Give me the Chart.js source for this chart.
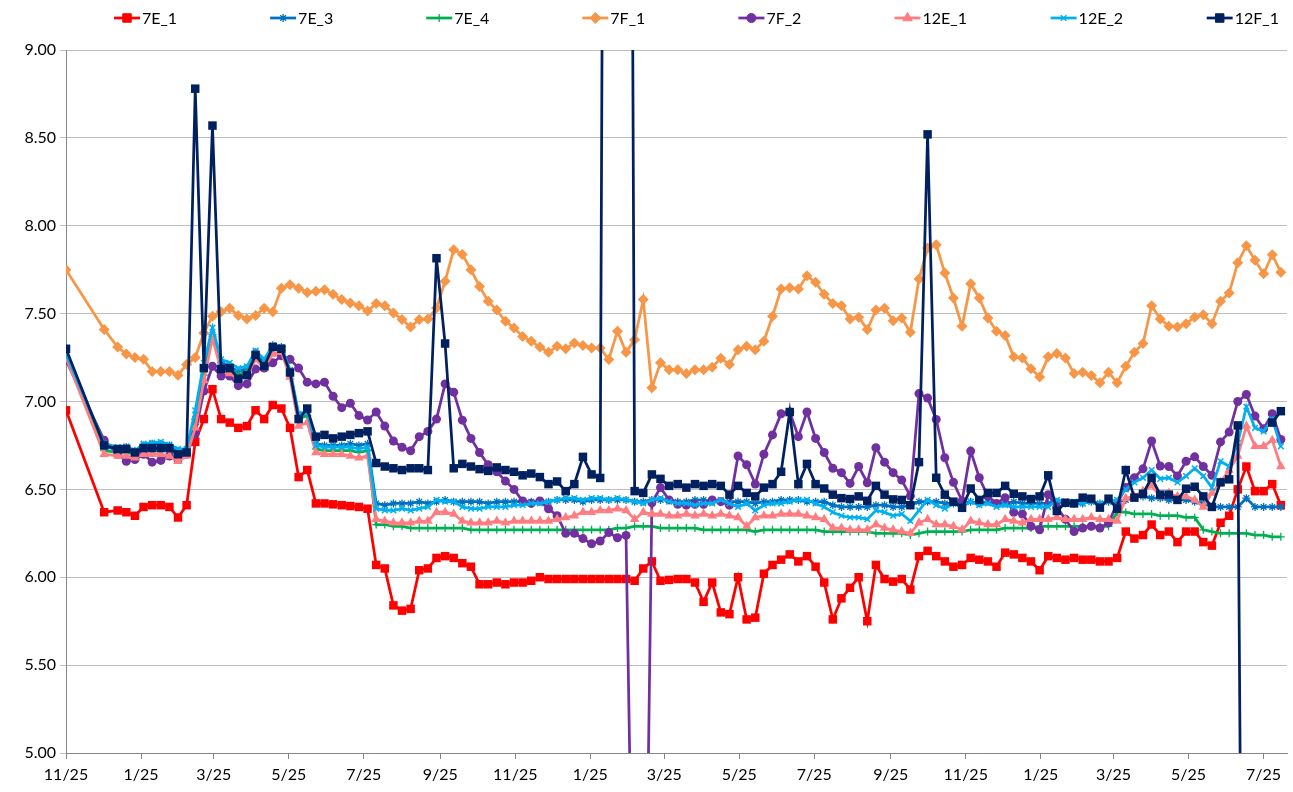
<!DOCTYPE html>
<html>
<head>
<meta charset="utf-8">
<script src="https://cdn.jsdelivr.net/npm/chart.js@4.4.1/dist/chart.umd.min.js"></script>
<style>
html,body{margin:0;padding:0;background:#fff;}
#wrap{width:1293px;height:792px;}
</style>
</head>
<body>
<div id="wrap"><canvas id="c" width="1293" height="792"></canvas></div>
<script>
// x positions: days since 11/25 of the first year (one reading per week)
const days = [0,31,
42,49,56,63,70,77,84,91,98,105,112,119,126,133,140,147,154,161,168,175,182,189,196,203,210,217,224,231,238,245,252,259,266,273,280,287,294,301,308,315,322,329,336,343,350,357,364,371,378,385,392,399,406,413,420,427,434,441,448,455,462,469,476,483,490,497,504,511,518,525,532,539,546,553,560,567,574,581,588,595,602,609,616,623,630,637,644,651,658,665,672,679,686,693,700,707,714,721,728,735,742,749,756,763,770,777,784,791,798,805,812,819,826,833,840,847,854,861,868,875,882,889,896,903,910,917,924,931,938,945,952,959,966,973,980,987];

// tick positions (days) and their labels
const tickDays = [0,61,120,181,242,304,365,426,486,547,608,670,731,792,851,912,973];
const tickLabels = ['11/25','1/25','3/25','5/25','7/25','9/25','11/25','1/25','3/25','5/25','7/25','9/25','11/25','1/25','3/25','5/25','7/25'];
const yTicks = [5.0,5.5,6.0,6.5,7.0,7.5,8.0,8.5,9.0];

const s7E_1 = [6.95,6.37,
6.38,6.37,6.35,6.40,6.41,6.41,6.40,6.34,6.41,
6.77,6.90,7.07,6.90,6.88,6.85,6.86,6.95,6.90,6.98,6.96,6.85,6.57,6.61,
6.42,6.42,6.415,6.41,6.405,6.40,6.39,6.07,6.05,5.84,5.81,5.82,6.04,6.05,
6.11,6.12,6.11,6.08,6.06,5.96,5.96,5.97,5.96,5.97,5.97,5.98,6.00,5.99,
5.99,5.99,5.99,5.99,5.99,5.99,5.99,5.99,5.99,5.98,6.05,6.09,5.98,
5.985,5.99,5.99,5.97,5.86,5.97,5.80,5.79,6.00,5.76,5.77,6.02,6.07,6.10,
6.13,6.09,6.12,6.06,5.97,5.76,5.88,5.94,6.00,5.75,6.07,5.99,5.975,5.99,
5.93,6.12,6.15,6.12,6.09,6.06,6.07,6.11,6.10,6.09,6.06,6.14,6.13,6.11,
6.09,6.04,6.12,6.11,6.10,6.11,6.10,6.10,6.09,6.09,6.11,6.26,6.22,6.24,
6.30,6.24,6.26,6.20,6.26,6.26,6.20,6.18,6.31,6.35,6.50,6.63,6.49,6.49,6.53,6.41];

const s7E_3 = [7.28,6.74,
6.73,6.74,6.72,6.75,6.76,6.76,6.75,6.72,6.72,
6.90,7.18,7.38,7.22,7.20,7.17,7.19,7.28,7.22,7.32,7.31,7.17,6.92,6.95,
6.76,6.75,6.75,6.75,6.76,6.75,6.76,6.42,6.41,6.42,6.42,6.42,6.43,6.42,
6.43,6.44,6.43,6.43,6.43,6.43,6.42,6.43,6.43,6.43,6.43,6.43,6.43,6.43,
6.44,6.44,6.44,6.43,6.44,6.44,6.44,6.44,6.44,6.43,6.43,6.44,6.44,
6.44,6.43,6.43,6.44,6.44,6.43,6.43,6.43,6.43,6.43,6.42,6.43,6.43,6.44,
6.44,6.44,6.43,6.43,6.43,6.41,6.40,6.40,6.40,6.40,6.41,6.41,6.40,6.40,
6.41,6.43,6.43,6.43,6.42,6.42,6.42,6.43,6.42,6.43,6.42,6.42,6.43,6.42,
6.42,6.42,6.42,6.43,6.42,6.42,6.42,6.43,6.42,6.43,6.43,6.44,6.46,6.46,
6.45,6.45,6.44,6.44,6.44,6.43,6.42,6.40,6.40,6.40,6.40,6.45,6.40,6.40,6.40,6.40];

const s7E_4 = [7.26,6.72,
6.71,6.71,6.70,6.72,6.73,6.73,6.72,6.70,6.71,
6.87,7.15,7.37,7.20,7.18,7.15,7.17,7.26,7.21,7.30,7.29,7.16,6.90,6.92,
6.73,6.72,6.72,6.72,6.72,6.71,6.72,6.30,6.30,6.29,6.29,6.28,6.28,6.28,
6.28,6.28,6.28,6.28,6.27,6.27,6.27,6.27,6.27,6.27,6.27,6.27,6.27,6.27,
6.27,6.27,6.27,6.27,6.27,6.27,6.27,6.28,6.28,6.29,6.29,6.29,6.28,
6.28,6.28,6.28,6.28,6.27,6.27,6.27,6.27,6.27,6.27,6.26,6.27,6.27,6.27,
6.27,6.27,6.27,6.27,6.26,6.26,6.26,6.26,6.26,6.26,6.25,6.25,6.25,6.25,
6.24,6.25,6.26,6.26,6.26,6.26,6.26,6.27,6.27,6.27,6.27,6.28,6.28,6.28,
6.28,6.29,6.29,6.29,6.29,6.29,6.29,6.29,6.29,6.29,6.37,6.37,6.36,6.36,
6.36,6.35,6.35,6.35,6.34,6.34,6.27,6.26,6.25,6.25,6.25,6.25,6.24,6.24,6.23,6.23];

const s7F_1 = [7.75,7.41,
7.31,7.27,7.25,7.24,7.17,7.17,7.17,7.15,7.21,
7.25,7.39,7.485,7.51,7.53,7.49,7.47,7.49,7.53,7.51,7.645,7.665,7.645,7.62,
7.627,7.636,7.61,7.58,7.56,7.545,7.515,7.557,7.545,7.504,7.466,7.424,7.466,7.47,
7.532,7.684,7.864,7.836,7.75,7.655,7.57,7.52,7.456,7.418,7.37,7.343,7.31,7.28,
7.314,7.30,7.333,7.318,7.305,7.305,7.239,7.40,7.28,7.352,7.58,7.078,7.22,
7.18,7.18,7.16,7.18,7.18,7.195,7.246,7.21,7.295,7.314,7.295,7.343,7.485,7.64,
7.647,7.64,7.716,7.678,7.61,7.557,7.545,7.47,7.48,7.41,7.52,7.53,7.46,7.475,
7.394,7.697,7.873,7.892,7.731,7.589,7.428,7.67,7.589,7.475,7.40,7.375,7.254,7.248,
7.186,7.14,7.254,7.273,7.248,7.159,7.167,7.148,7.106,7.167,7.106,7.20,7.28,7.33,
7.545,7.47,7.428,7.424,7.443,7.48,7.494,7.443,7.57,7.617,7.79,7.886,7.803,7.727,7.835,7.735];

const s7F_2 = [7.235,6.78,
6.70,6.66,6.67,6.70,6.655,6.665,6.69,6.67,6.70,
6.82,7.06,7.20,7.145,7.145,7.09,7.10,7.185,7.19,7.22,7.26,7.24,7.19,7.11,
7.10,7.11,7.03,6.965,6.99,6.92,6.895,6.94,6.86,6.775,6.74,6.72,6.80,6.83,
6.90,7.10,7.053,6.894,6.79,6.71,6.64,6.60,6.547,6.50,6.434,6.42,6.434,6.39,
6.35,6.25,6.25,6.22,6.19,6.206,6.254,6.225,6.238,3.3,2.8,6.424,6.51,
6.44,6.415,6.41,6.415,6.415,6.44,6.43,6.41,6.69,6.64,6.53,6.70,6.81,6.93,
6.94,6.80,6.94,6.79,6.71,6.62,6.595,6.534,6.63,6.538,6.737,6.655,6.595,6.553,
6.462,7.045,7.02,6.898,6.68,6.54,6.434,6.718,6.566,6.46,6.42,6.453,6.37,6.36,
6.29,6.27,6.47,6.40,6.33,6.26,6.28,6.29,6.28,6.31,6.42,6.51,6.566,6.617,
6.775,6.633,6.63,6.576,6.66,6.685,6.63,6.58,6.77,6.826,7.00,7.04,6.917,6.845,6.93,6.784];

const s12E_1 = [7.25,6.70,
6.69,6.69,6.68,6.70,6.70,6.70,6.69,6.66,6.69,
6.85,7.12,7.36,7.18,7.16,7.13,7.15,7.24,7.19,7.27,7.28,7.14,6.86,6.88,
6.71,6.70,6.70,6.70,6.69,6.68,6.69,6.33,6.32,6.31,6.31,6.31,6.32,6.32,
6.37,6.37,6.36,6.32,6.31,6.31,6.31,6.32,6.31,6.32,6.32,6.32,6.32,6.32,
6.33,6.34,6.35,6.37,6.37,6.38,6.38,6.39,6.38,6.33,6.37,6.36,6.36,
6.35,6.35,6.36,6.35,6.36,6.35,6.36,6.35,6.34,6.29,6.34,6.35,6.35,6.36,
6.36,6.36,6.35,6.34,6.33,6.28,6.28,6.27,6.27,6.27,6.30,6.28,6.27,6.26,
6.25,6.31,6.33,6.30,6.30,6.29,6.27,6.32,6.31,6.30,6.30,6.33,6.32,6.31,
6.33,6.33,6.33,6.34,6.33,6.33,6.33,6.34,6.33,6.33,6.32,6.45,6.46,6.49,
6.52,6.46,6.48,6.46,6.46,6.44,6.40,6.48,6.54,6.61,6.69,6.86,6.745,6.745,6.78,6.63];

const s12E_2 = [7.27,6.76,
6.74,6.745,6.72,6.76,6.765,6.77,6.755,6.73,6.73,
6.95,7.22,7.42,7.24,7.22,7.19,7.20,7.29,7.24,7.32,7.31,7.18,6.93,6.94,
6.75,6.74,6.74,6.74,6.74,6.73,6.74,6.39,6.38,6.38,6.39,6.38,6.39,6.40,
6.44,6.43,6.43,6.40,6.39,6.39,6.40,6.40,6.40,6.41,6.41,6.42,6.42,6.43,
6.44,6.45,6.45,6.44,6.45,6.45,6.44,6.45,6.44,6.43,6.42,6.44,6.45,
6.43,6.42,6.42,6.41,6.42,6.42,6.44,6.42,6.40,6.42,6.38,6.41,6.42,6.42,
6.43,6.44,6.44,6.42,6.40,6.37,6.35,6.34,6.34,6.33,6.38,6.37,6.35,6.36,
6.32,6.38,6.44,6.41,6.39,6.42,6.40,6.43,6.41,6.42,6.40,6.41,6.40,6.40,
6.40,6.40,6.40,6.44,6.43,6.43,6.42,6.43,6.42,6.43,6.44,6.50,6.54,6.566,
6.61,6.56,6.566,6.54,6.576,6.62,6.576,6.51,6.66,6.63,6.765,6.97,6.85,6.83,6.90,6.745];

const s12F_1 = [7.30,6.75,
6.73,6.73,6.71,6.735,6.735,6.735,6.735,6.70,6.71,
8.78,7.19,8.57,7.185,7.19,7.13,7.15,7.265,7.20,7.31,7.30,7.165,6.90,6.96,
6.80,6.81,6.79,6.80,6.81,6.82,6.83,6.65,6.63,6.62,6.61,6.62,6.62,6.61,
7.815,7.33,6.62,6.645,6.63,6.615,6.605,6.625,6.61,6.60,6.58,6.59,6.57,6.53,
6.545,6.49,6.53,6.685,6.585,6.565,18,18,18,6.49,6.48,6.585,6.56,
6.52,6.53,6.51,6.53,6.52,6.53,6.52,6.47,6.52,6.48,6.46,6.51,6.53,6.60,
6.94,6.53,6.645,6.53,6.505,6.47,6.45,6.445,6.46,6.435,6.52,6.47,6.443,6.44,
6.41,6.655,8.52,6.566,6.47,6.43,6.395,6.505,6.44,6.48,6.48,6.52,6.475,6.46,
6.445,6.46,6.58,6.377,6.424,6.42,6.453,6.447,6.396,6.447,6.39,6.61,6.453,6.475,
6.566,6.47,6.47,6.44,6.504,6.515,6.46,6.40,6.54,6.557,6.864,0,null,null,6.88,6.945];

const seriesNames = ['7E_1','7E_3','7E_4','7F_1','7F_2','12E_1','12E_2','12F_1'];
const seriesValues = [s7E_1,s7E_3,s7E_4,s7F_1,s7F_2,s12E_1,s12E_2,s12F_1];

const styles = [
  {c:'#FF0000', ps:'rect', r:6, bw:0},
  {c:'#0070C0', ps:'star', r:4, bw:1.3},
  {c:'#00B050', ps:'cross', r:4, bw:1.3},
  {c:'#F79646', ps:'rectRot', r:5.5, bw:0},
  {c:'#7030A0', ps:'circle', r:4.5, bw:0},
  {c:'#FF7C80', ps:'triangle', r:5.5, bw:0},
  {c:'#00B0F0', ps:'crossRot', r:4, bw:1.5},
  {c:'#002060', ps:'rect', r:6, bw:0}
];

const FONT = 'Lato, "Liberation Sans", sans-serif';

const datasets = seriesNames.map((name, i) => ({
  label: name,
  data: days.map((d, j) => ({x: d, y: seriesValues[i][j]})),
  borderColor: styles[i].c,
  backgroundColor: styles[i].c,
  borderWidth: 2.75,
  pointStyle: styles[i].ps,
  pointRadius: styles[i].r,
  pointBorderWidth: styles[i].bw,
  pointBorderColor: styles[i].c,
  pointBackgroundColor: styles[i].c,
  tension: 0,
  spanGaps: false,
  order: seriesNames.length - i
}));

const legendPlugin = {
  id: 'excelLegend',
  beforeDraw(chart) {
    const ctx = chart.ctx;
    ctx.save();
    ctx.fillStyle = '#fff';
    ctx.fillRect(0, 0, chart.width, chart.height);
    ctx.restore();
  },
  afterDraw(chart) {
    const ctx = chart.ctx;
    const y = 18;
    ctx.save();
    ctx.font = '16px ' + FONT;
    ctx.textBaseline = 'middle';
    ctx.textAlign = 'left';
    seriesNames.forEach((name, i) => {
      const cx = 127 + i * 156.1;
      const st = styles[i];
      ctx.strokeStyle = st.c;
      ctx.fillStyle = st.c;
      ctx.lineWidth = 2.75;
      ctx.beginPath();
      ctx.moveTo(cx - 13, y);
      ctx.lineTo(cx + 13, y);
      ctx.stroke();
      ctx.lineWidth = st.bw || 1;
      Chart.helpers.drawPoint(ctx, {
        pointStyle: st.ps, radius: st.r, rotation: 0, borderWidth: st.bw || 1
      }, cx, y);
      ctx.fillStyle = '#000';
      ctx.fillText(name, cx + 15, y + 1);
    });
    ctx.restore();
  }
};

new Chart(document.getElementById('c'), {
  type: 'line',
  data: { datasets },
  plugins: [legendPlugin],
  options: {
    responsive: false,
    animation: false,
    devicePixelRatio: 1,
    events: [],
    layout: { padding: { top: 50, right: 0, left: 0, bottom: 0 } },
    plugins: { legend: { display: false }, tooltip: { enabled: false } },
    scales: {
      x: {
        type: 'linear',
        min: 0,
        max: 992,
        afterBuildTicks(scale) { scale.ticks = tickDays.map(v => ({ value: v })); },
        afterFit(scale) { scale.height = 39; },
        ticks: {
          autoSkip: false,
          maxRotation: 0,
          color: '#000',
          font: { family: FONT, size: 16 },
          padding: 6,
          callback: (v, idx) => tickLabels[idx]
        },
        grid: { drawOnChartArea: false, drawTicks: true, tickLength: 6, color: '#868686', lineWidth: 1 },
        border: { color: '#868686', width: 1 }
      },
      y: {
        type: 'linear',
        min: 5,
        max: 9,
        afterBuildTicks(scale) { scale.ticks = yTicks.map(v => ({ value: v })); },
        afterFit(scale) { scale.width = 66; },
        ticks: {
          color: '#000',
          font: { family: FONT, size: 16 },
          padding: 4,
          callback: v => Number(v).toFixed(2)
        },
        grid: { color: '#BFBFBF', lineWidth: 1, tickLength: 6, drawTicks: true },
        border: { color: '#868686', width: 1 }
      }
    }
  }
});
</script>
</body>
</html>
